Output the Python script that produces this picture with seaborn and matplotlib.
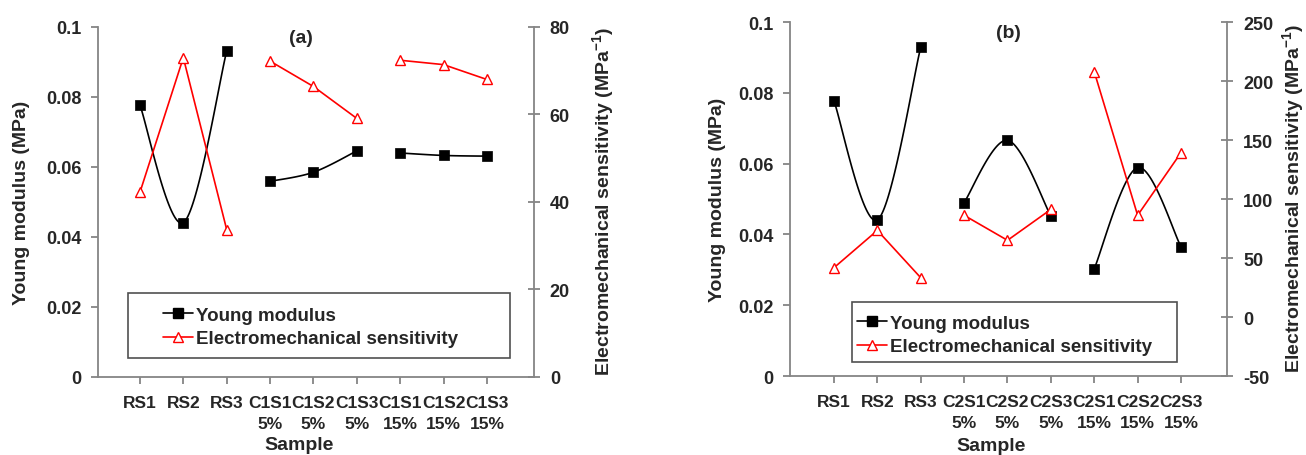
import numpy as np
import matplotlib
matplotlib.use("Agg")
import matplotlib.pyplot as plt
from matplotlib.lines import Line2D
from matplotlib.patches import Rectangle
import seaborn as sns

# data
samples_a = ["RS1", "RS2", "RS3", "C1S1\n5%", "C1S2\n5%", "C1S3\n5%",
             "C1S1\n15%", "C1S2\n15%", "C1S3\n15%"]
young_a = [0.0777, 0.0441, 0.0931, 0.0559, 0.0585, 0.0646, 0.0640, 0.0633, 0.0631]
sens_a = [42.2, 73.0, 33.7, 72.2, 66.4, 59.1, 72.4, 71.4, 68.0]

samples_b = ["RS1", "RS2", "RS3", "C2S1\n5%", "C2S2\n5%", "C2S3\n5%",
             "C2S1\n15%", "C2S2\n15%", "C2S3\n15%"]
young_b = [0.0777, 0.0441, 0.0929, 0.0490, 0.0666, 0.0452, 0.0303, 0.0589, 0.0365]
sens_b = [41.8, 73.4, 33.3, 86.2, 65.0, 91.2, 207.9, 86.2, 139.3]

group_size = 3

sns.set_style("ticks")
plt.rcParams["font.family"] = ["Liberation Sans", "DejaVu Sans"]
plt.rcParams["font.weight"] = "bold"
plt.rcParams["axes.labelweight"] = "bold"
plt.rcParams["axes.unicode_minus"] = False
plt.rcParams["mathtext.fontset"] = "custom"
plt.rcParams["mathtext.rm"] = "Liberation Sans:bold"
plt.rcParams["mathtext.bf"] = "Liberation Sans:bold"
plt.rcParams["mathtext.default"] = "bf"

GRAY = "#858585"
RED = "#ff0000"


def smooth(xs, ys, n=40):
    # excel-like smoothed line: bezier segments with catmull-rom control points
    pts = np.column_stack([xs, ys]).astype(float)
    out = []
    for i in range(len(pts) - 1):
        p0 = pts[max(i - 1, 0)]
        p1 = pts[i]
        p2 = pts[i + 1]
        p3 = pts[min(i + 2, len(pts) - 1)]
        c1 = p1 + (p2 - p0) / 6
        c2 = p2 - (p3 - p1) / 6
        t = np.linspace(0, 1, n)[:, None]
        seg = ((1 - t) ** 3) * p1 + 3 * ((1 - t) ** 2) * t * c1 + 3 * (1 - t) * t ** 2 * c2 + t ** 3 * p2
        out.append(seg)
    out = np.vstack(out)
    return out[:, 0], out[:, 1]


def panel(rect, samples, young, sens, xlim, sens_lim, sens_ticks, tag, tag_pos,
          box, leg_anchor, ylab_x, y2lab_x, xlab_pos):
    ax = fig.add_axes(rect)
    ax2 = ax.twinx()
    x = np.arange(len(samples))

    for g in range(0, len(samples), group_size):
        gx = x[g:g + group_size]
        sx, sy = smooth(gx, young[g:g + group_size])
        ax.plot(sx, sy, color="black", lw=1.2, zorder=2)
        sns.scatterplot(x=gx, y=young[g:g + group_size], ax=ax, marker="s", s=42,
                        color="black", edgecolor="black", linewidth=0.5, zorder=3, legend=False)
        sns.lineplot(x=gx, y=sens[g:g + group_size], ax=ax2, color=RED, lw=1.2,
                     marker="^", markersize=7, markerfacecolor="white",
                     markeredgecolor=RED, markeredgewidth=1.0, legend=False)

    ax.set_xlim(*xlim)
    ax.set_ylim(0, 0.1)
    ax.set_yticks([0, 0.02, 0.04, 0.06, 0.08, 0.1])
    ax.set_yticklabels(["0", "0.02", "0.04", "0.06", "0.08", "0.1"])
    ax.set_xticks(x)
    ax.set_xticklabels(samples)
    ax2.set_ylim(*sens_lim)
    ax2.set_yticks(sens_ticks)

    for a in (ax, ax2):
        for s in a.spines.values():
            s.set_color(GRAY)
            s.set_linewidth(1.3)
        a.spines["top"].set_visible(False)
    ax.spines["right"].set_visible(False)
    ax2.spines["left"].set_visible(False)
    ax2.spines["bottom"].set_visible(False)

    ax.tick_params(axis="y", direction="out", length=5, width=1.3, color=GRAY,
                   labelsize=13, pad=7)
    ax.tick_params(axis="x", direction="out", length=5, width=1.3, color=GRAY,
                   labelsize=12.5, pad=8)
    ax2.tick_params(axis="y", direction="inout", length=9, width=1.3, color=GRAY,
                    labelsize=13, pad=7)
    for lbl in ax.get_xticklabels():
        lbl.set_linespacing(1.5)

    ax.set_ylabel("Young modulus (MPa)", fontsize=14)
    ax.yaxis.set_label_coords(ylab_x, 0.5)
    ax2.set_ylabel("Electromechanical sensitivity (MPa$^{-1}$)", fontsize=14)
    ax2.yaxis.set_label_coords(y2lab_x, 0.505)
    ax.set_xlabel("Sample", fontsize=14)
    ax.xaxis.set_label_coords(*xlab_pos)

    ax2.text(tag_pos[0], tag_pos[1], tag, transform=ax.transAxes, fontsize=14,
             ha="center", va="center")

    ax2.add_patch(Rectangle((box[0], box[1]), box[2], box[3], transform=ax.transAxes,
                            facecolor="white", edgecolor="#505050", lw=1.2, zorder=4))
    handles = [
        Line2D([], [], color="black", lw=1.2, marker="s", markersize=6.5),
        Line2D([], [], color=RED, lw=1.2, marker="^", markersize=7,
               markerfacecolor="white", markeredgecolor=RED),
    ]
    leg = ax2.legend(handles, ["Young modulus", "Electromechanical sensitivity"],
                     loc="center left", bbox_to_anchor=leg_anchor,
                     bbox_transform=ax.transAxes, frameon=False, fontsize=13.5,
                     handlelength=1.6, handletextpad=0.15, labelspacing=0.35,
                     borderpad=0, borderaxespad=0)
    leg.set_zorder(5)
    return ax, ax2


fig = plt.figure(figsize=(13.06, 4.56), dpi=100)

panel([0.0750, 0.1711, 0.3338, 0.7675], samples_a, young_a, sens_a,
      (-0.968, 9.083), (0, 80), [0, 20, 40, 60, 80], "(a)", (0.466, 0.97),
      (0.069, 0.054, 0.876, 0.186), (0.149, 0.143), -0.156, 1.128, (0.461, -0.17))

panel([0.6049, 0.1732, 0.3346, 0.7763], samples_b, young_b, sens_b,
      (-1.014, 9.06), (-50, 250), [-50, 0, 50, 100, 150, 200, 250], "(b)", (0.50, 0.97),
      (0.142, 0.040, 0.744, 0.169), (0.153, 0.116), -0.146, 1.122, (0.46, -0.172))

fig.savefig("out.png", dpi=100)
